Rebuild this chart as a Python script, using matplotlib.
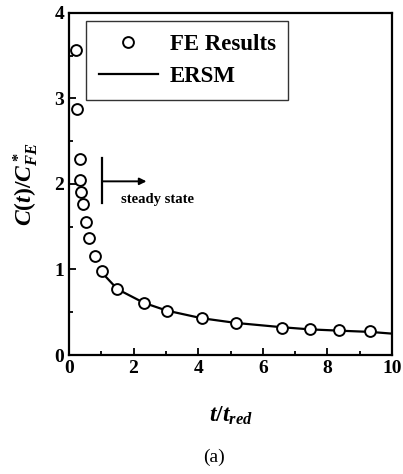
import matplotlib
matplotlib.use("Agg")
import matplotlib.pyplot as plt
import numpy as np

plt.rcParams["font.family"] = "Liberation Serif"
plt.rcParams["font.weight"] = "bold"
plt.rcParams["mathtext.fontset"] = "custom"
plt.rcParams["mathtext.it"] = "Liberation Serif:bold:italic"
plt.rcParams["mathtext.rm"] = "Liberation Serif:bold"

# FE results
t_fe = [0.21, 0.25, 0.33, 0.35, 0.38, 0.43, 0.52, 0.62, 0.80, 1.03,
        1.50, 2.32, 3.02, 4.11, 5.17, 6.59, 7.45, 8.35, 9.33]
c_fe = [3.57, 2.88, 2.29, 2.05, 1.91, 1.76, 1.56, 1.37, 1.16, 0.98,
        0.77, 0.61, 0.52, 0.43, 0.38, 0.32, 0.30, 0.29, 0.28]
# ERSM curve
t_ersm = [1.03, 1.50, 2.32, 3.02, 4.11, 5.17, 6.59, 7.45, 8.35, 9.33, 10.0]
c_ersm = [0.96, 0.77, 0.61, 0.52, 0.43, 0.375, 0.325, 0.30, 0.285, 0.27, 0.25]

fig = plt.figure(figsize=(4.03, 4.74), dpi=100)
ax = fig.add_axes([0.171, 0.251, 0.802, 0.722])

ax.plot(t_ersm, c_ersm, color="black", linewidth=1.6, label="ERSM", zorder=2)
ax.plot(t_fe, c_fe, "o", markersize=7.8, markerfacecolor="white",
        markeredgecolor="black", markeredgewidth=1.4, label="FE Results", zorder=3)

ax.set_xlim(0, 10)
ax.set_ylim(0, 4)
ax.set_xticks([0, 2, 4, 6, 8, 10])
ax.set_yticks([0, 1, 2, 3, 4])
ax.set_xticks([1, 3, 5, 7, 9], minor=True)
ax.set_yticks([0.5, 1.5, 2.5, 3.5], minor=True)
ax.tick_params(which="both", direction="in", top=False, right=False,
               labelsize=14, width=1.3)
ax.tick_params(which="major", length=5)
ax.tick_params(which="minor", length=3)
for sp in ax.spines.values():
    sp.set_linewidth(1.6)

ax.set_xlabel(r"$t/t_{red}$", fontsize=17, labelpad=20)
ax.set_ylabel(r"$C(t)/C^*_{FE}$", fontsize=17, labelpad=10)

# steady state marker
ax.plot([1.03, 1.03], [1.78, 2.30], color="black", linewidth=1.6)
ax.annotate("", xy=(2.4, 2.03), xytext=(1.03, 2.03),
            arrowprops=dict(arrowstyle="-|>", color="black", lw=1.4,
                            mutation_scale=10, shrinkA=0, shrinkB=0))
ax.text(1.6, 1.82, "steady state", fontsize=10.5, fontweight="bold",
        va="center", ha="left")

handles, labels = ax.get_legend_handles_labels()
leg = ax.legend(handles[::-1], labels[::-1], loc="upper left",
                bbox_to_anchor=(0.053, 0.975), fontsize=16.5, frameon=True,
                fancybox=False, edgecolor="black", handlelength=2.6,
                borderpad=0.55, labelspacing=0.5, borderaxespad=0,
                handletextpad=0.5)
leg.get_frame().set_linewidth(1.0)
for txt in leg.get_texts():
    txt.set_fontweight("bold")

fig.text(0.53, 0.035, "(a)", fontsize=14, fontweight="normal", ha="center",
         va="center")

fig.savefig("out.png", dpi=100)
